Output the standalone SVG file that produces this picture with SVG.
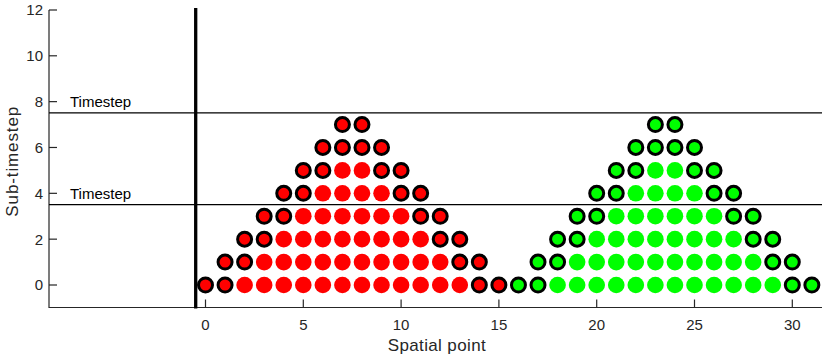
<svg xmlns="http://www.w3.org/2000/svg" xmlns:xlink="http://www.w3.org/1999/xlink" width="830" height="356" viewBox="0 0 830 356">
<style>
  text { font-family: "Liberation Sans", Arial, sans-serif; fill: #262626; }
  .tick { font-size: 15px; }
  .ylab { text-anchor: end; }
  .xlab { text-anchor: middle; }
  .axlab { font-size: 17px; text-anchor: middle; }
  .ts { font-size: 15px; fill: #000; }
  .axis { stroke: #262626; stroke-width: 1.2; fill: none; }
  .tk { stroke: #262626; stroke-width: 1.2; }
  .hl { stroke: #000; stroke-width: 1.3; }
</style>
<defs>
  <circle id="F" r="8.3"/>
  <circle id="O" r="7" stroke="#000" stroke-width="3"/>
</defs>

<g id="axes">
  <path class="axis" d="M49 10 V307.5 H822"/>
  <g class="tk">
    <line x1="49" y1="285" x2="57" y2="285"/>
    <line x1="49" y1="239.16" x2="57" y2="239.16"/>
    <line x1="49" y1="193.32" x2="57" y2="193.32"/>
    <line x1="49" y1="147.48" x2="57" y2="147.48"/>
    <line x1="49" y1="101.64" x2="57" y2="101.64"/>
    <line x1="49" y1="55.8" x2="57" y2="55.8"/>
    <line x1="49" y1="10" x2="57" y2="10"/>
    <line x1="205.5" y1="307.5" x2="205.5" y2="299.5"/>
    <line x1="303.3" y1="307.5" x2="303.3" y2="299.5"/>
    <line x1="401.1" y1="307.5" x2="401.1" y2="299.5"/>
    <line x1="498.9" y1="307.5" x2="498.9" y2="299.5"/>
    <line x1="596.7" y1="307.5" x2="596.7" y2="299.5"/>
    <line x1="694.5" y1="307.5" x2="694.5" y2="299.5"/>
    <line x1="792.3" y1="307.5" x2="792.3" y2="299.5"/>
  </g>
  <g class="tick ylab">
    <text x="43" y="290.3">0</text>
    <text x="43" y="244.5">2</text>
    <text x="43" y="198.6">4</text>
    <text x="43" y="152.8">6</text>
    <text x="43" y="106.9">8</text>
    <text x="43" y="61.1">10</text>
    <text x="43" y="15.3">12</text>
  </g>
  <g class="tick xlab">
    <text x="205.5" y="330">0</text>
    <text x="303.3" y="330">5</text>
    <text x="401.1" y="330">10</text>
    <text x="498.9" y="330">15</text>
    <text x="596.7" y="330">20</text>
    <text x="694.5" y="330">25</text>
    <text x="792.3" y="330">30</text>
  </g>
  <text class="axlab" x="436.7" y="351" textLength="98">Spatial point</text>
  <text class="axlab" transform="translate(17.5 161.7) rotate(-90)" textLength="110">Sub-timestep</text>
</g>

<g id="lines">
  <line class="hl" x1="49" y1="112.9" x2="822" y2="112.9"/>
  <line class="hl" x1="49" y1="204.7" x2="822" y2="204.7"/>
  <line x1="195.7" y1="8" x2="195.7" y2="308.5" stroke="#000" stroke-width="3.3"/>
  <text class="ts" x="70" y="107">Timestep</text>
  <text class="ts" x="70" y="198.8">Timestep</text>
</g>

<g id="red" fill="#ff0000" transform="translate(205.5 285)">
  <use href="#O" x="0" y="0"/><use href="#O" x="19.56" y="0"/>
  <use href="#F" x="39.12" y="0"/><use href="#F" x="58.68" y="0"/><use href="#F" x="78.24" y="0"/><use href="#F" x="97.8" y="0"/><use href="#F" x="117.36" y="0"/><use href="#F" x="136.92" y="0"/><use href="#F" x="156.48" y="0"/><use href="#F" x="176.04" y="0"/><use href="#F" x="195.6" y="0"/><use href="#F" x="215.16" y="0"/><use href="#F" x="234.72" y="0"/><use href="#F" x="254.28" y="0"/>
  <use href="#O" x="273.84" y="0"/><use href="#O" x="293.4" y="0"/>

  <use href="#O" x="19.56" y="-22.92"/><use href="#O" x="39.12" y="-22.92"/>
  <use href="#F" x="58.68" y="-22.92"/><use href="#F" x="78.24" y="-22.92"/><use href="#F" x="97.8" y="-22.92"/><use href="#F" x="117.36" y="-22.92"/><use href="#F" x="136.92" y="-22.92"/><use href="#F" x="156.48" y="-22.92"/><use href="#F" x="176.04" y="-22.92"/><use href="#F" x="195.6" y="-22.92"/><use href="#F" x="215.16" y="-22.92"/><use href="#F" x="234.72" y="-22.92"/>
  <use href="#O" x="254.28" y="-22.92"/><use href="#O" x="273.84" y="-22.92"/>

  <use href="#O" x="39.12" y="-45.84"/><use href="#O" x="58.68" y="-45.84"/>
  <use href="#F" x="78.24" y="-45.84"/><use href="#F" x="97.8" y="-45.84"/><use href="#F" x="117.36" y="-45.84"/><use href="#F" x="136.92" y="-45.84"/><use href="#F" x="156.48" y="-45.84"/><use href="#F" x="176.04" y="-45.84"/><use href="#F" x="195.6" y="-45.84"/><use href="#F" x="215.16" y="-45.84"/>
  <use href="#O" x="234.72" y="-45.84"/><use href="#O" x="254.28" y="-45.84"/>

  <use href="#O" x="58.68" y="-68.76"/><use href="#O" x="78.24" y="-68.76"/>
  <use href="#F" x="97.8" y="-68.76"/><use href="#F" x="117.36" y="-68.76"/><use href="#F" x="136.92" y="-68.76"/><use href="#F" x="156.48" y="-68.76"/><use href="#F" x="176.04" y="-68.76"/><use href="#F" x="195.6" y="-68.76"/>
  <use href="#O" x="215.16" y="-68.76"/><use href="#O" x="234.72" y="-68.76"/>

  <use href="#O" x="78.24" y="-91.68"/><use href="#O" x="97.8" y="-91.68"/>
  <use href="#F" x="117.36" y="-91.68"/><use href="#F" x="136.92" y="-91.68"/><use href="#F" x="156.48" y="-91.68"/><use href="#F" x="176.04" y="-91.68"/>
  <use href="#O" x="195.6" y="-91.68"/><use href="#O" x="215.16" y="-91.68"/>

  <use href="#O" x="97.8" y="-114.6"/><use href="#O" x="117.36" y="-114.6"/>
  <use href="#F" x="136.92" y="-114.6"/><use href="#F" x="156.48" y="-114.6"/>
  <use href="#O" x="176.04" y="-114.6"/><use href="#O" x="195.6" y="-114.6"/>

  <use href="#O" x="117.36" y="-137.52"/><use href="#O" x="136.92" y="-137.52"/><use href="#O" x="156.48" y="-137.52"/><use href="#O" x="176.04" y="-137.52"/>

  <use href="#O" x="136.92" y="-160.44"/><use href="#O" x="156.48" y="-160.44"/>
</g>

<g id="green" fill="#00ff00" transform="translate(518.46 285)">
  <use href="#O" x="0" y="0"/><use href="#O" x="19.56" y="0"/>
  <use href="#F" x="39.12" y="0"/><use href="#F" x="58.68" y="0"/><use href="#F" x="78.24" y="0"/><use href="#F" x="97.8" y="0"/><use href="#F" x="117.36" y="0"/><use href="#F" x="136.92" y="0"/><use href="#F" x="156.48" y="0"/><use href="#F" x="176.04" y="0"/><use href="#F" x="195.6" y="0"/><use href="#F" x="215.16" y="0"/><use href="#F" x="234.72" y="0"/><use href="#F" x="254.28" y="0"/>
  <use href="#O" x="273.84" y="0"/><use href="#O" x="293.4" y="0"/>

  <use href="#O" x="19.56" y="-22.92"/><use href="#O" x="39.12" y="-22.92"/>
  <use href="#F" x="58.68" y="-22.92"/><use href="#F" x="78.24" y="-22.92"/><use href="#F" x="97.8" y="-22.92"/><use href="#F" x="117.36" y="-22.92"/><use href="#F" x="136.92" y="-22.92"/><use href="#F" x="156.48" y="-22.92"/><use href="#F" x="176.04" y="-22.92"/><use href="#F" x="195.6" y="-22.92"/><use href="#F" x="215.16" y="-22.92"/><use href="#F" x="234.72" y="-22.92"/>
  <use href="#O" x="254.28" y="-22.92"/><use href="#O" x="273.84" y="-22.92"/>

  <use href="#O" x="39.12" y="-45.84"/><use href="#O" x="58.68" y="-45.84"/>
  <use href="#F" x="78.24" y="-45.84"/><use href="#F" x="97.8" y="-45.84"/><use href="#F" x="117.36" y="-45.84"/><use href="#F" x="136.92" y="-45.84"/><use href="#F" x="156.48" y="-45.84"/><use href="#F" x="176.04" y="-45.84"/><use href="#F" x="195.6" y="-45.84"/><use href="#F" x="215.16" y="-45.84"/>
  <use href="#O" x="234.72" y="-45.84"/><use href="#O" x="254.28" y="-45.84"/>

  <use href="#O" x="58.68" y="-68.76"/><use href="#O" x="78.24" y="-68.76"/>
  <use href="#F" x="97.8" y="-68.76"/><use href="#F" x="117.36" y="-68.76"/><use href="#F" x="136.92" y="-68.76"/><use href="#F" x="156.48" y="-68.76"/><use href="#F" x="176.04" y="-68.76"/><use href="#F" x="195.6" y="-68.76"/>
  <use href="#O" x="215.16" y="-68.76"/><use href="#O" x="234.72" y="-68.76"/>

  <use href="#O" x="78.24" y="-91.68"/><use href="#O" x="97.8" y="-91.68"/>
  <use href="#F" x="117.36" y="-91.68"/><use href="#F" x="136.92" y="-91.68"/><use href="#F" x="156.48" y="-91.68"/><use href="#F" x="176.04" y="-91.68"/>
  <use href="#O" x="195.6" y="-91.68"/><use href="#O" x="215.16" y="-91.68"/>

  <use href="#O" x="97.8" y="-114.6"/><use href="#O" x="117.36" y="-114.6"/>
  <use href="#F" x="136.92" y="-114.6"/><use href="#F" x="156.48" y="-114.6"/>
  <use href="#O" x="176.04" y="-114.6"/><use href="#O" x="195.6" y="-114.6"/>

  <use href="#O" x="117.36" y="-137.52"/><use href="#O" x="136.92" y="-137.52"/><use href="#O" x="156.48" y="-137.52"/><use href="#O" x="176.04" y="-137.52"/>

  <use href="#O" x="136.92" y="-160.44"/><use href="#O" x="156.48" y="-160.44"/>
</g>
</svg>
